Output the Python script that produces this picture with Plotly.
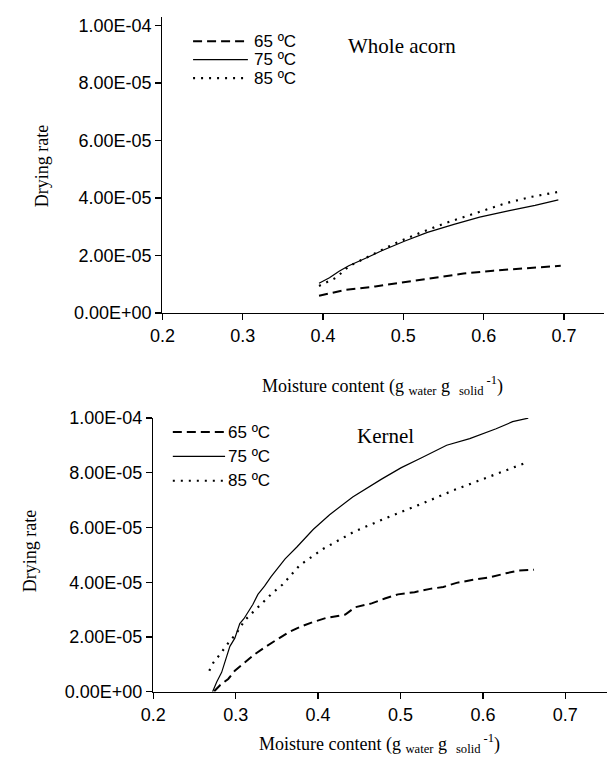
import plotly.graph_objects as go

# ---------------- data ----------------
series_names = ["65 ºC", "75 ºC", "85 ºC"]

# Whole acorn
whole_x_65 = [0.395, 0.410, 0.428, 0.465, 0.502, 0.538, 0.575, 0.612, 0.652, 0.696]
whole_y_65 = [0.60e-5, 0.69e-5, 0.80e-5, 0.92e-5, 1.07e-5, 1.22e-5, 1.37e-5, 1.47e-5, 1.56e-5, 1.64e-5]

whole_x_75 = [0.395, 0.408, 0.420, 0.432, 0.453, 0.473, 0.502, 0.530, 0.563, 0.595, 0.632, 0.664, 0.693]
whole_y_75 = [1.03e-5, 1.22e-5, 1.45e-5, 1.64e-5, 1.90e-5, 2.16e-5, 2.50e-5, 2.80e-5, 3.08e-5, 3.33e-5, 3.56e-5, 3.74e-5, 3.93e-5]

whole_x_85 = [0.395, 0.416, 0.432, 0.461, 0.489, 0.522, 0.554, 0.591, 0.628, 0.660, 0.693]
whole_y_85 = [0.94e-5, 1.22e-5, 1.62e-5, 2.01e-5, 2.41e-5, 2.80e-5, 3.14e-5, 3.48e-5, 3.82e-5, 4.04e-5, 4.21e-5]

# Kernel
kernel_x_65 = [0.274, 0.281, 0.291, 0.299, 0.311, 0.323, 0.337, 0.350, 0.364, 0.378, 0.394, 0.410,
               0.433, 0.445, 0.465, 0.481, 0.497, 0.517, 0.536, 0.552, 0.568, 0.588, 0.608, 0.628, 0.643, 0.662]
kernel_y_65 = [0.02e-5, 0.24e-5, 0.47e-5, 0.77e-5, 1.07e-5, 1.37e-5, 1.66e-5, 1.90e-5, 2.17e-5, 2.37e-5, 2.55e-5, 2.70e-5,
               2.82e-5, 3.09e-5, 3.23e-5, 3.41e-5, 3.56e-5, 3.64e-5, 3.76e-5, 3.83e-5, 3.98e-5, 4.09e-5, 4.18e-5, 4.33e-5, 4.43e-5, 4.46e-5]

kernel_x_75 = [0.272, 0.277, 0.283, 0.288, 0.293, 0.299, 0.305, 0.310, 0.315, 0.321, 0.327, 0.335, 0.343, 0.351,
               0.360, 0.374, 0.394, 0.414, 0.442, 0.477, 0.501, 0.525, 0.556, 0.584, 0.616, 0.636, 0.655]
kernel_y_75 = [0.00e-5, 0.36e-5, 0.71e-5, 1.19e-5, 1.66e-5, 1.96e-5, 2.49e-5, 2.67e-5, 2.91e-5, 3.20e-5, 3.56e-5, 3.86e-5, 4.21e-5, 4.51e-5,
               4.86e-5, 5.28e-5, 5.93e-5, 6.47e-5, 7.12e-5, 7.77e-5, 8.19e-5, 8.54e-5, 9.01e-5, 9.25e-5, 9.61e-5, 9.87e-5, 10.0e-5]

kernel_x_85 = [0.268, 0.273, 0.281, 0.291, 0.301, 0.311, 0.321, 0.333, 0.345, 0.357, 0.378, 0.406,
               0.445, 0.485, 0.525, 0.564, 0.604, 0.655]
kernel_y_85 = [0.77e-5, 1.07e-5, 1.37e-5, 1.78e-5, 2.14e-5, 2.61e-5, 2.91e-5, 3.26e-5, 3.62e-5, 3.92e-5, 4.63e-5, 5.22e-5,
               5.87e-5, 6.38e-5, 6.86e-5, 7.36e-5, 7.83e-5, 8.40e-5]

x_tick_vals = [0.2, 0.3, 0.4, 0.5, 0.6, 0.7]
x_tick_text = ["0.2", "0.3", "0.4", "0.5", "0.6", "0.7"]
y_tick_vals = [0, 2e-5, 4e-5, 6e-5, 8e-5, 1e-4]
y_tick_text = ["0.00E+00", "2.00E-05", "4.00E-05", "6.00E-05", "8.00E-05", "1.00E-04"]

panel_titles = ["Whole acorn", "Kernel"]
y_title = "Drying rate"
x_title = "Moisture content (g <sub>water</sub> g  <sub>solid</sub><sup> -1</sup>)"

# ---------------- styles ----------------
W, H = 609, 769
styles = [dict(dash="9px,5px", width=2.0),
          dict(dash="solid", width=1.2),
          dict(dash="2px,6px", width=2.2)]

SANS = "Liberation Sans, Arial, sans-serif"
SERIF = "Liberation Serif, Times New Roman, serif"

fig = go.Figure()

top_sets = [(whole_x_65, whole_y_65), (whole_x_75, whole_y_75), (whole_x_85, whole_y_85)]
bot_sets = [(kernel_x_65, kernel_y_65), (kernel_x_75, kernel_y_75), (kernel_x_85, kernel_y_85)]

for i, (xs, ys) in enumerate(top_sets):
    fig.add_trace(go.Scatter(x=xs, y=ys, mode="lines", name=series_names[i],
                             line=dict(color="black", **styles[i]),
                             xaxis="x", yaxis="y", showlegend=False))
for i, (xs, ys) in enumerate(bot_sets):
    fig.add_trace(go.Scatter(x=xs, y=ys, mode="lines", name=series_names[i],
                             line=dict(color="black", **styles[i]),
                             xaxis="x2", yaxis="y2", showlegend=False))


def px(x):
    return x / W


def py(y):
    return 1 - y / H


axis_common = dict(showline=True, linecolor="black", linewidth=1.3, ticks="outside",
                   ticklen=6, tickwidth=1.3, tickcolor="black", showgrid=False,
                   zeroline=False, tickfont=dict(family=SANS, size=18, color="black"))

fig.update_layout(
    width=W, height=H,
    margin=dict(l=0, r=0, t=0, b=0),
    paper_bgcolor="white", plot_bgcolor="white",
    showlegend=False,
    xaxis=dict(domain=[px(152.7), px(604)], range=[0.2, 0.75], anchor="y",
               tickvals=x_tick_vals, ticktext=x_tick_text, **axis_common),
    yaxis=dict(domain=[py(311), py(7)], range=[0, 1.03e-4], anchor="x",
               tickvals=y_tick_vals, ticktext=y_tick_text, **axis_common),
    xaxis2=dict(domain=[px(143.3), px(606.5)], range=[0.2, 0.75], anchor="y2",
                tickvals=x_tick_vals, ticktext=x_tick_text, **axis_common),
    yaxis2=dict(domain=[py(700), py(419)], range=[0, 1.0e-4], anchor="x2",
                tickvals=y_tick_vals, ticktext=y_tick_text, **axis_common),
)

annotations = []
# axis titles
for (cx, cy) in [(29, 160), (17, 556)]:
    annotations.append(dict(text=y_title, x=px(cx), y=py(cy), xref="paper", yref="paper",
                            showarrow=False, textangle=-90, xanchor="center", yanchor="middle",
                            font=dict(family=SERIF, size=18, color="black")))
for (cx, cy) in [(378, 386), (374, 753)]:
    annotations.append(dict(text=x_title, x=px(cx), y=py(cy), xref="paper", yref="paper",
                            showarrow=False, xanchor="center", yanchor="middle",
                            font=dict(family=SERIF, size=18, color="black")))
# panel titles
for t, (cx, cy) in zip(panel_titles, [(397.5, 37), (381, 437)]):
    annotations.append(dict(text=t, x=px(cx), y=py(cy), xref="paper", yref="paper",
                            showarrow=False, xanchor="center", yanchor="middle",
                            font=dict(family=SERIF, size=21, color="black")))

# legend keys (drawn as decoration)
shapes = []
legend_layouts = [dict(x0=184, x1=240, tx=244, ys=[32, 51, 70]),
                  dict(x0=163.3, x1=216.7, tx=218, ys=[433.3, 458.3, 483.3])]
for lg in legend_layouts:
    for i, yy in enumerate(lg["ys"]):
        shapes.append(dict(type="line", xref="paper", yref="paper",
                           x0=px(lg["x0"]), x1=px(lg["x1"]), y0=py(yy), y1=py(yy),
                           line=dict(color="black", **styles[i])))
        annotations.append(dict(text=series_names[i], x=px(lg["tx"]), y=py(yy),
                                xref="paper", yref="paper", showarrow=False,
                                xanchor="left", yanchor="middle",
                                font=dict(family=SANS, size=17, color="black")))

fig.update_layout(annotations=annotations, shapes=shapes)

fig.write_html("out.html",
               config={"displayModeBar": False, "staticPlot": True},
               post_script="document.body.style.margin='0';document.body.style.overflow='hidden';")
